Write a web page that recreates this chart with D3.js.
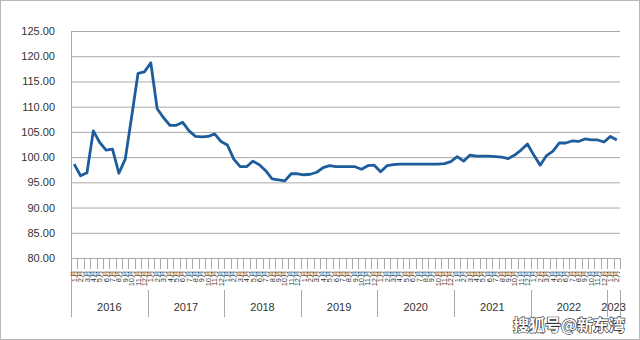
<!DOCTYPE html>
<html><head><meta charset="utf-8">
<script src="https://cdn.jsdelivr.net/npm/d3@7"></script>
<style>
html,body{margin:0;padding:0;background:#fff;}
svg{display:block;}
</style></head>
<body>
<svg id="chart" width="640" height="340"></svg>
<script>
const years = ["2016","2017","2018","2019","2020","2021","2022","2023"];
const monthsPerYear = [12,12,12,12,12,12,12,2];
const monthLabels = ["1月","2月","3月","4月","5月","6月","7月","8月","9月","10月","11月","12月"];
const yTicks = [80,85,90,95,100,105,110,115,120,125];
const values2016 = [98.6,96.3,96.9,105.2,102.9,101.4,101.6,96.8,99.6,108.0,116.6,116.9];
const values2017 = [118.7,109.6,107.8,106.3,106.3,106.9,105.2,104.1,104.0,104.1,104.6,103.1];
const values2018 = [102.4,99.6,98.1,98.1,99.2,98.5,97.3,95.7,95.5,95.3,96.7,96.7];
const values2019 = [96.5,96.6,97.0,97.9,98.3,98.1,98.1,98.1,98.1,97.6,98.3,98.4];
const values2020 = [97.1,98.3,98.5,98.6,98.6,98.6,98.6,98.6,98.6,98.6,98.7,99.1];
const values2021 = [100.1,99.2,100.4,100.2,100.2,100.2,100.1,100.0,99.7,100.4,101.4,102.6];
const values2022 = [100.4,98.4,100.3,101.2,102.8,102.8,103.2,103.1,103.6,103.4,103.4,103.0];
const values2023 = [104.1,103.4];
const seriesByYear = [values2016,values2017,values2018,values2019,values2020,values2021,values2022,values2023];
const watermark = "搜狐号@新东湾";

const data = [];
years.forEach((y,yi)=>{
  for(let m=0;m<monthsPerYear[yi];m++){
    data.push({key:y+"-"+(m+1), year:y, label:monthLabels[m], value:seriesByYear[yi][m]});
  }
});

const svg = d3.select("#chart");
const L=71, R=620, T=31, B=258;
const x = d3.scaleBand().domain(data.map(d=>d.key)).range([L,R]).padding(0);
const y = d3.scaleLinear().domain([80,125]).range([B,T]);
const gridColor = "#a9a9a9";
const textColor = "#333";
const font = "'Liberation Sans', Arial, sans-serif";

// frame
svg.append("rect").attr("x",0.5).attr("y",0.5).attr("width",639).attr("height",339)
  .attr("fill","#fff").attr("stroke","#b8b8b8");

// gridlines
const grid = svg.append("g").attr("transform",`translate(${L},0)`)
  .call(d3.axisLeft(y).tickValues(yTicks).tickSize(-(R-L)).tickFormat(""));
grid.select(".domain").remove();
grid.selectAll(".tick line").attr("stroke",gridColor).attr("stroke-width",1);

// y labels
const ya = svg.append("g").attr("transform",`translate(${L},0)`)
  .call(d3.axisLeft(y).tickValues(yTicks).tickSize(0).tickPadding(16).tickFormat(d3.format(".2f")));
ya.select(".domain").remove();
ya.selectAll("text").attr("font-family",font).attr("font-size",11).attr("fill",textColor);

// left axis line
svg.append("line").attr("x1",L+0.5).attr("x2",L+0.5).attr("y1",T).attr("y2",317)
  .attr("stroke",gridColor);

// category boundary ticks
const boundaries = data.map(d=>x(d.key)).concat([x.range()[1]]);
svg.append("g").selectAll("line").data(boundaries).join("line")
  .attr("x1",d=>Math.round(d)+0.5).attr("x2",d=>Math.round(d)+0.5)
  .attr("y1",B).attr("y2",269).attr("stroke",gridColor);

// month labels
svg.append("g").selectAll("text").data(data).join("text")
  .attr("transform",d=>`translate(${x(d.key)+x.bandwidth()/2+2.6},270) rotate(-90)`)
  .attr("text-anchor","end")
  .attr("font-family",font).attr("font-size",7.5).attr("fill",textColor)
  .text(d=>d.label);

// year dividers & labels
const yearStarts = [];
let idx=0;
years.forEach((yr,yi)=>{
  const first = data[idx], last = data[idx+monthsPerYear[yi]-1];
  yearStarts.push({year:yr, x0:x(first.key), x1:x(last.key)+x.bandwidth()});
  idx += monthsPerYear[yi];
});
svg.append("g").selectAll("line").data(yearStarts.map(d=>d.x1)).join("line")
  .attr("x1",d=>Math.round(d)+0.5).attr("x2",d=>Math.round(d)+0.5)
  .attr("y1",290).attr("y2",317).attr("stroke",gridColor);
svg.append("g").selectAll("text").data(yearStarts).join("text")
  .attr("x",d=>(d.x0+d.x1)/2).attr("y",311)
  .attr("text-anchor","middle")
  .attr("font-family",font).attr("font-size",11).attr("fill",textColor)
  .text(d=>d.year);

// x axis line
svg.append("line").attr("x1",L).attr("x2",R).attr("y1",B+0.5).attr("y2",B+0.5).attr("stroke",gridColor);

// the line
const line = d3.line().x(d=>x(d.key)+x.bandwidth()/2).y(d=>y(d.value));
svg.append("path").datum(data).attr("d",line)
  .attr("fill","none").attr("stroke","#1d5d9c").attr("stroke-width",2.8)
  .attr("stroke-linejoin","round");

// watermark
svg.append("text").attr("x",625).attr("y",331).attr("text-anchor","end")
  .attr("font-family","'Noto Sans CJK SC', sans-serif").attr("font-size",16).attr("font-weight","bold")
  .attr("fill","#fff").attr("stroke","#333").attr("stroke-width",1.3).attr("paint-order","stroke")
  .text(watermark);
</script>
</body></html>
